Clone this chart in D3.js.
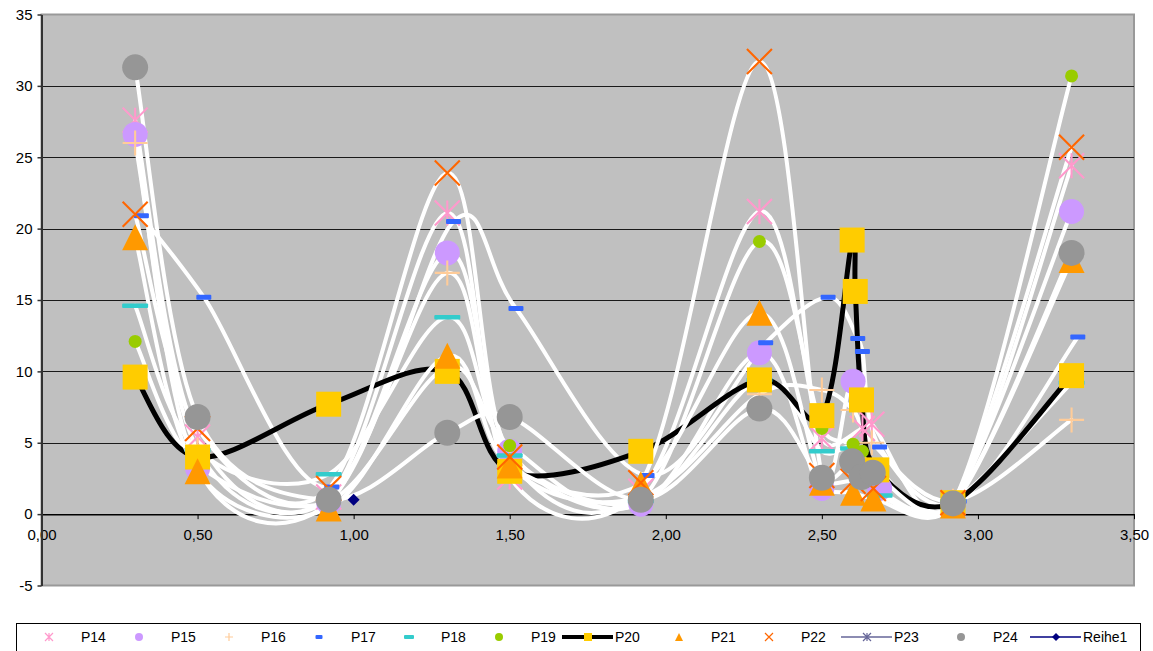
<!DOCTYPE html>
<html><head><meta charset="utf-8">
<script src="https://cdn.jsdelivr.net/npm/d3@7"></script>
<style>
html,body{margin:0;padding:0;background:#fff;}
svg{display:block;font-family:"Liberation Sans",Arial,sans-serif;}
</style></head><body>
<svg id="chart" width="1153" height="651"></svg>
<script>
// ---------- data ----------
const xTickValues = [0, 0.5, 1, 1.5, 2, 2.5, 3, 3.5];
const yTickValues = [-5, 0, 5, 10, 15, 20, 25, 30, 35];
const seriesNames = ["P14","P15","P16","P17","P18","P19","P20","P21","P22","P23","P24","Reihe1"];

const p14X = [0.30, 0.50, 0.92, 1.30, 1.50, 1.92, 2.30, 2.50, 2.63, 2.66, 2.92, 3.30];
const p14Y = [27.6, 5.4, 1.2, 21.1, 2.6, 1.6, 21.2, 5.3, 6.0, 6.3, 0.8, 24.4];

const p15X = [0.30, 0.50, 0.92, 1.30, 1.50, 1.92, 2.30, 2.50, 2.60, 2.685, 2.92, 3.30];
const p15Y = [26.6, 3.2, 0.8, 18.3, 4.4, 0.7, 11.3, 1.8, 9.3, 1.8, 0.8, 21.2];

const p16X = [0.30, 0.50, 0.92, 1.30, 1.50, 1.92, 2.30, 2.50, 2.60, 2.66, 2.92, 3.30];
const p16Y = [26.0, 4.5, 1.0, 16.9, 3.5, 1.2, 8.4, 8.7, 7.3, 5.0, 0.9, 6.6];

const p17X = [0.32, 0.52, 0.93, 1.32, 1.52, 1.94, 2.32, 2.52, 2.615, 2.63, 2.685, 2.94, 3.32];
const p17Y = [20.9, 15.2, 1.9, 20.5, 14.4, 2.7, 12.0, 15.2, 12.3, 11.4, 4.7, 0.9, 12.4];

const p18X = [0.30, 0.50, 0.92, 1.30, 1.50, 1.92, 2.30, 2.50, 2.60, 2.685, 2.92, 3.30];
const p18Y = [14.6, 4.5, 2.8, 13.8, 4.1, 0.9, 9.4, 4.4, 4.6, 1.3, 0.9, 9.2];

const p19X = [0.30, 0.50, 0.92, 1.30, 1.50, 1.92, 2.30, 2.50, 2.60, 2.63, 2.92, 3.30];
const p19Y = [12.1, 3.5, 0.9, 10.3, 4.8, 1.0, 19.1, 6.0, 4.9, 4.4, 0.8, 30.7];

const p20X = [0.30, 0.50, 0.92, 1.30, 1.50, 1.92, 2.30, 2.50, 2.597, 2.607, 2.627, 2.676, 2.92, 3.30];
const p20Y = [9.6, 4.0, 7.7, 10.0, 3.0, 4.4, 9.4, 6.9, 19.2, 15.6, 8.0, 3.1, 0.8, 9.7];

const p21X = [0.30, 0.50, 0.92, 1.30, 1.50, 1.92, 2.30, 2.50, 2.60, 2.665, 2.92, 3.30];
const p21Y = [19.4, 3.0, 0.4, 11.1, 3.4, 2.1, 14.1, 2.2, 1.5, 1.1, 0.6, 17.8];

const p22X = [0.30, 0.50, 0.92, 1.30, 1.50, 1.92, 2.30, 2.50, 2.60, 2.665, 2.92, 3.30];
const p22Y = [21.0, 6.0, 1.8, 23.9, 4.0, 2.2, 31.7, 2.7, 2.3, 1.8, 0.8, 25.7];

const p23X = [];
const p23Y = [];

const p24X = [0.30, 0.50, 0.92, 1.30, 1.50, 1.92, 2.30, 2.50, 2.597, 2.627, 2.663, 2.92, 3.30];
const p24Y = [31.3, 6.8, 1.0, 5.7, 6.8, 1.0, 7.4, 2.55, 3.7, 2.6, 2.9, 0.75, 18.3];

const reihe1X = [1.0];
const reihe1Y = [1.0];

// ---------- styles ----------
const series = [
  {name:"P14", xs:p14X, ys:p14Y, line:"#ffffff", lw:4, marker:"asterisk", color:"#ff99cc", size:25},
  {name:"P15", xs:p15X, ys:p15Y, line:"#ffffff", lw:4, marker:"circle", color:"#cc99ff", size:25},
  {name:"P16", xs:p16X, ys:p16Y, line:"#ffffff", lw:4, marker:"plus", color:"#ffcc99", size:25},
  {name:"P17", xs:p17X, ys:p17Y, line:"#ffffff", lw:4, marker:"dash", color:"#3366ff", size:15, h:5},
  {name:"P18", xs:p18X, ys:p18Y, line:"#ffffff", lw:4, marker:"dash", color:"#33cccc", size:26, h:4.5},
  {name:"P19", xs:p19X, ys:p19Y, line:"#ffffff", lw:4, marker:"circle", color:"#99cc00", size:13},
  {name:"P20", xs:p20X, ys:p20Y, line:"#000000", lw:5, marker:"square", color:"#ffcc00", size:25},
  {name:"P21", xs:p21X, ys:p21Y, line:"#ffffff", lw:4, marker:"triangle", color:"#ff9900", size:26},
  {name:"P22", xs:p22X, ys:p22Y, line:"#ffffff", lw:4, marker:"x", color:"#ff6600", size:25},
  {name:"P23", xs:p23X, ys:p23Y, line:"#666699", lw:1.5, marker:"asterisk", color:"#666699", size:10},
  {name:"P24", xs:p24X, ys:p24Y, line:"#ffffff", lw:4, marker:"circle", color:"#969696", size:26},
  {name:"Reihe1", xs:reihe1X, ys:reihe1Y, line:"#000080", lw:1.5, marker:"diamond", color:"#000080", size:12}
];

const plot = {left: 41.5, right: 1134, top: 14.5, bottom: 585.5};

const x = d3.scaleLinear().domain([0, 3.5]).range([plot.left, plot.right]);
const y = d3.scaleLinear().domain([-5, 35]).range([plot.bottom, plot.top]);

const svg = d3.select("#chart");

// plot area
svg.append("rect")
  .attr("x", plot.left).attr("y", plot.top)
  .attr("width", plot.right - plot.left).attr("height", plot.bottom - plot.top)
  .attr("fill", "#c0c0c0").attr("stroke", "#999999").attr("stroke-width", 2);

// gridlines
svg.append("g").selectAll("line")
  .data(yTickValues.filter(v => v > 0 && v < 35))
  .join("line")
  .attr("x1", plot.left).attr("x2", plot.right)
  .attr("y1", d => Math.round(y(d)) + 0.5).attr("y2", d => Math.round(y(d)) + 0.5)
  .attr("stroke", "#1a1a1a").attr("stroke-width", 1);

svg.append("defs").append("clipPath").attr("id", "clip")
  .append("rect").attr("x", plot.left).attr("y", plot.top)
  .attr("width", plot.right - plot.left).attr("height", plot.bottom - plot.top);

// axes
const fmtX = v => d3.format(".2f")(v).replace(".", ",");
const xAxis = svg.append("g")
  .attr("transform", `translate(0,${y(0)})`)
  .call(d3.axisBottom(x).tickValues(xTickValues).tickFormat(fmtX).tickSize(5).tickSizeOuter(0).tickPadding(10));
xAxis.select(".domain").attr("stroke", "#000").attr("stroke-width", 1.5);
xAxis.selectAll(".tick line").attr("stroke", "#000").attr("stroke-width", 1);
xAxis.selectAll("text").attr("font-size", 15).attr("fill", "#000")
  .attr("font-family", "Liberation Sans, Arial, sans-serif");

const yAxis = svg.append("g")
  .attr("transform", `translate(${plot.left},0)`)
  .call(d3.axisLeft(y).tickValues(yTickValues).tickFormat(d => String(d)).tickSize(4).tickSizeOuter(0).tickPadding(5));
yAxis.select(".domain").attr("stroke", "#333").attr("stroke-width", 2);
yAxis.selectAll(".tick line").attr("stroke", "#333").attr("stroke-width", 1.5);
yAxis.selectAll("text").attr("font-size", 15).attr("fill", "#000")
  .attr("font-family", "Liberation Sans, Arial, sans-serif");

// Excel-style smoothed line (Bezier, tangent/6, clamped to half segment)
function smoothPath(pts) {
  const p = d3.path();
  const n = pts.length;
  p.moveTo(pts[0][0], pts[0][1]);
  for (let i = 0; i < n - 1; i++) {
    const P0 = pts[i - 1] || pts[i], P1 = pts[i], P2 = pts[i + 1], P3 = pts[i + 2] || pts[i + 1];
    const d12 = Math.hypot(P2[0] - P1[0], P2[1] - P1[1]);
    let t1 = [(P2[0] - P0[0]) / 6, (P2[1] - P0[1]) / 6];
    let t2 = [(P3[0] - P1[0]) / 6, (P3[1] - P1[1]) / 6];
    const l1 = Math.hypot(t1[0], t1[1]), l2 = Math.hypot(t2[0], t2[1]);
    if (l1 > d12 / 2 && l1 > 0) { const k = (d12 / 2) / l1; t1 = [t1[0] * k, t1[1] * k]; }
    if (l2 > d12 / 2 && l2 > 0) { const k = (d12 / 2) / l2; t2 = [t2[0] * k, t2[1] * k]; }
    p.bezierCurveTo(P1[0] + t1[0], P1[1] + t1[1], P2[0] - t2[0], P2[1] - t2[1], P2[0], P2[1]);
  }
  return p.toString();
}

const linesG = svg.append("g").attr("clip-path", "url(#clip)");
series.forEach(s => {
  if (s.xs.length < 2) return;
  const pts = s.xs.map((v, i) => [x(v), y(s.ys[i])]);
  linesG.append("path")
    .attr("d", smoothPath(pts))
    .attr("fill", "none")
    .attr("stroke", s.line)
    .attr("stroke-width", s.lw)
    .attr("stroke-linejoin", "round")
    .attr("stroke-linecap", "round");
});

// markers
function drawMarker(g, type, color, size, h) {
  const a = size / 2;
  const sw = Math.max(1.2, size / 12);
  switch (type) {
    case "circle":
      g.append("circle").attr("r", a).attr("fill", color); break;
    case "square":
      g.append("rect").attr("x", -a).attr("y", -a).attr("width", size).attr("height", size).attr("fill", color); break;
    case "triangle":
      g.append("path").attr("d", `M0,${-a}L${a},${a}L${-a},${a}Z`).attr("fill", color); break;
    case "dash":
      g.append("rect").attr("x", -a).attr("y", -h / 2).attr("width", size).attr("height", h)
        .attr("rx", 1).attr("fill", color); break;
    case "diamond":
      g.append("path").attr("d", `M0,${-a}L${a},0L0,${a}L${-a},0Z`).attr("fill", color); break;
    case "x":
      g.append("path").attr("d", `M${-a},${-a}L${a},${a}M${-a},${a}L${a},${-a}`)
        .attr("stroke", color).attr("stroke-width", sw).attr("fill", "none"); break;
    case "plus":
      g.append("path").attr("d", `M${-a},0L${a},0M0,${-a}L0,${a}`)
        .attr("stroke", color).attr("stroke-width", sw).attr("fill", "none"); break;
    case "asterisk":
      g.append("path").attr("d", `M${-a},${-a}L${a},${a}M${-a},${a}L${a},${-a}M0,${-a}L0,${a}`)
        .attr("stroke", color).attr("stroke-width", sw).attr("fill", "none"); break;
  }
}

const markersG = svg.append("g");
series.forEach(s => {
  s.xs.forEach((v, i) => {
    const g = markersG.append("g").attr("transform", `translate(${x(v)},${y(s.ys[i])})`);
    drawMarker(g, s.marker, s.color, s.size, s.h);
  });
});

// legend
const legendTop = 623.5;
svg.append("rect").attr("x", 16.5).attr("y", legendTop).attr("width", 1124).attr("height", 40)
  .attr("fill", "#fff").attr("stroke", "#000").attr("stroke-width", 1);

const legendStarts = [18, 108, 198, 288, 378, 468, 558, 648, 738, 837, 930, 1026];
const legendCy = 637;
series.forEach((s, i) => {
  const cx = legendStarts[i];
  const g = svg.append("g");
  let textX;
  const hasLine = (s.name === "P20" || s.name === "P23" || s.name === "Reihe1");
  if (hasLine) {
    g.append("line").attr("x1", cx + 4).attr("x2", cx + 55).attr("y1", legendCy).attr("y2", legendCy)
      .attr("stroke", s.line).attr("stroke-width", s.name === "P20" ? 4 : 1.5);
    const mg = g.append("g").attr("transform", `translate(${cx + 30},${legendCy})`);
    drawMarker(mg, s.marker, s.color, 8, 3);
    textX = cx + 57;
  } else {
    const mg = g.append("g").attr("transform", `translate(${cx + 31},${legendCy})`);
    const sz = s.marker === "dash" ? (s.name === "P17" ? 7 : 10) : 8;
    drawMarker(mg, s.marker, s.color, sz, 4);
    textX = cx + 63;
  }
  g.append("text").attr("x", textX).attr("y", legendCy + 5)
    .attr("font-size", 14).attr("fill", "#000").text(s.name);
});
</script>
</body></html>
